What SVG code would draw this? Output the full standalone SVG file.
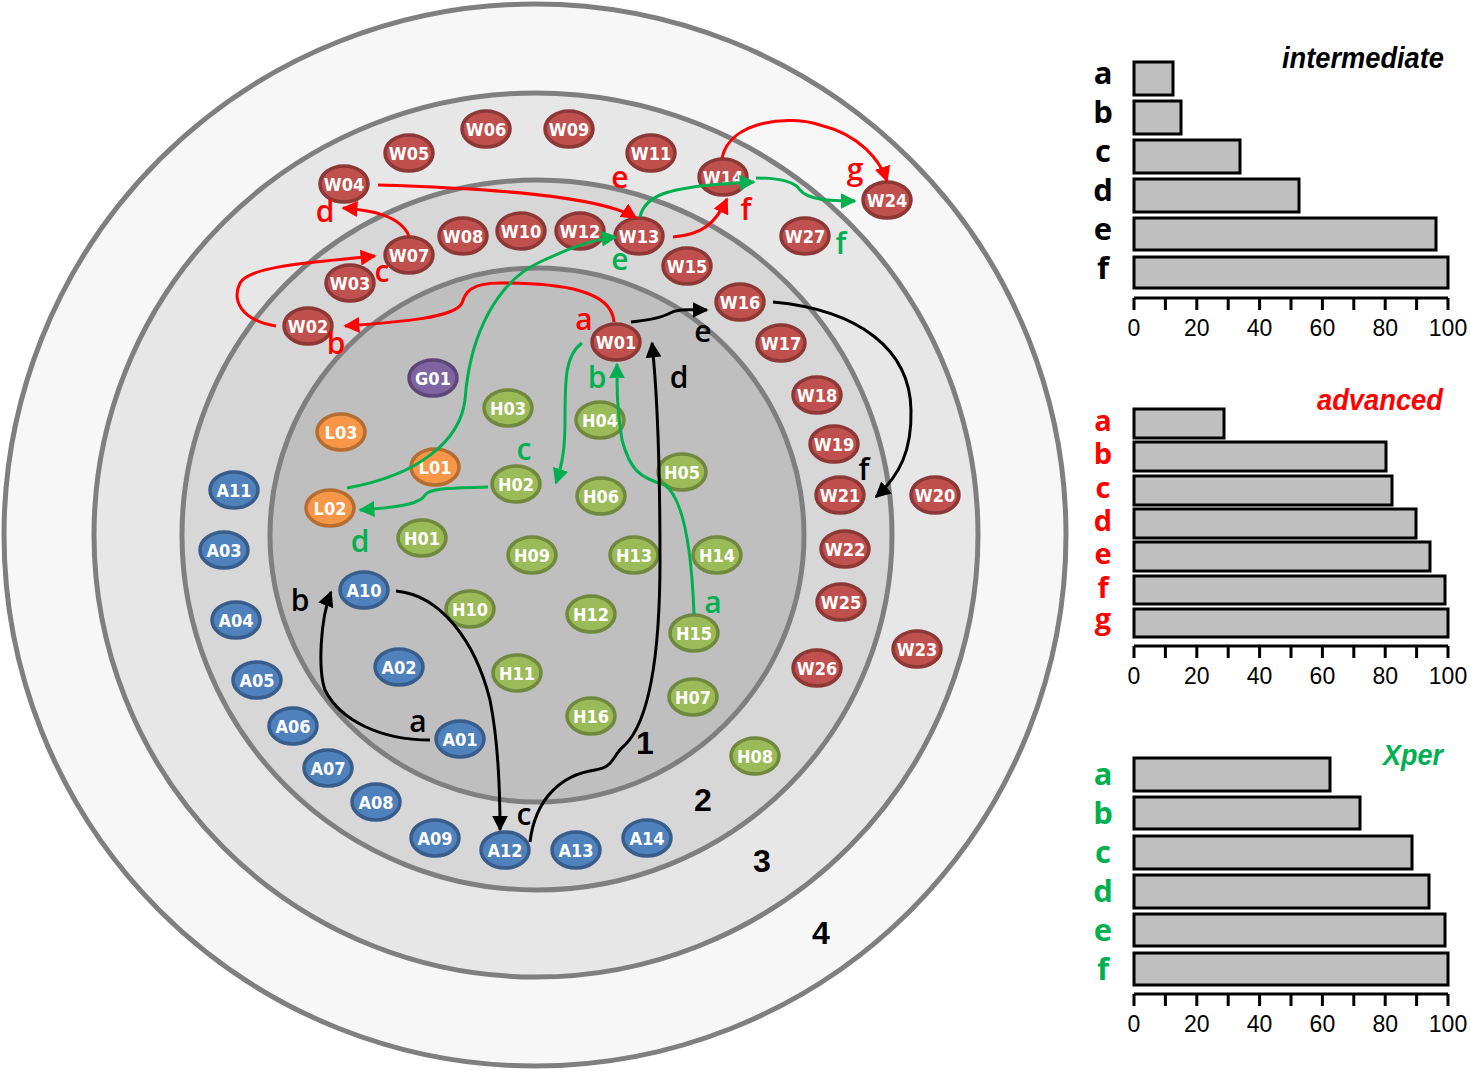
<svg xmlns="http://www.w3.org/2000/svg" width="1470" height="1071" viewBox="0 0 1470 1071">
<defs>
<style>
.ring{stroke:#7f7f7f;stroke-width:5}
.n ellipse{stroke-width:3.5}
.n text{font-family:'DejaVu Sans Condensed','DejaVu Sans',sans-serif;font-stretch:condensed;font-weight:bold;font-size:18px;fill:#fff;text-anchor:middle;dominant-baseline:central}
.W ellipse{fill:#c0504d;stroke:#8c3836}
.A ellipse{fill:#4f81bd;stroke:#385d8a}
.H ellipse{fill:#9bbb59;stroke:#71893f}
.L ellipse{fill:#f79646;stroke:#b66d31}
.G ellipse{fill:#8064a2;stroke:#5c4776}
.e{fill:none;stroke-width:3}
.er{stroke:#ff0000}
.eg{stroke:#00b050}
.ek{stroke:#000}
.lab{font-family:'Open Sans','Liberation Sans',sans-serif;font-weight:600;font-size:30px;text-anchor:middle}
.rn{font-family:'Liberation Sans',sans-serif;font-weight:bold;font-size:32px;text-anchor:middle}
.bar{fill:#bfbfbf;stroke:#000;stroke-width:3}
.ax{stroke:#000;stroke-width:3;fill:none}
.tk{font-family:'Liberation Sans',sans-serif;font-size:23px;text-anchor:middle}
.cl{font-family:'Open Sans','Liberation Sans',sans-serif;font-weight:bold;font-size:31px;text-anchor:middle}
.cs{font-size:29px}
.tt{font-family:'Liberation Sans',sans-serif;font-weight:bold;font-style:italic;font-size:30px}
</style>
<marker id="mr" viewBox="0 0 10 10" refX="9" refY="5" markerWidth="16" markerHeight="16" markerUnits="userSpaceOnUse" orient="auto"><path d="M0,0L10,5L0,10z" fill="#ff0000"/></marker>
<marker id="mg" viewBox="0 0 10 10" refX="9" refY="5" markerWidth="16" markerHeight="16" markerUnits="userSpaceOnUse" orient="auto"><path d="M0,0L10,5L0,10z" fill="#00b050"/></marker>
<marker id="mk" viewBox="0 0 10 10" refX="9" refY="5" markerWidth="16" markerHeight="16" markerUnits="userSpaceOnUse" orient="auto"><path d="M0,0L10,5L0,10z" fill="#000"/></marker>
</defs>
<rect width="1470" height="1071" fill="#fff"/>
<g id="rings">
<circle class="ring" cx="535" cy="535" r="531" fill="#f7f7f7"/>
<circle class="ring" cx="536" cy="535" r="442" fill="#e7e7e7"/>
<circle class="ring" cx="537" cy="535" r="355" fill="#d7d7d7"/>
<circle class="ring" cx="537" cy="535" r="267" fill="#bfbfbf"/>
<text class="rn" x="645" y="754">1</text>
<text class="rn" x="703" y="811">2</text>
<text class="rn" x="762" y="872">3</text>
<text class="rn" x="821" y="944">4</text>
</g>
<g id="nodes">
<g id="W01" class="n W"><ellipse cx="616" cy="342" rx="24" ry="18"/><text x="616" y="342">W01</text></g>
<g id="W02" class="n W"><ellipse cx="308" cy="326" rx="24" ry="18"/><text x="308" y="326">W02</text></g>
<g id="W03" class="n W"><ellipse cx="350" cy="283" rx="24" ry="18"/><text x="350" y="283">W03</text></g>
<g id="W04" class="n W"><ellipse cx="344" cy="184" rx="24" ry="18"/><text x="344" y="184">W04</text></g>
<g id="W05" class="n W"><ellipse cx="409" cy="153" rx="24" ry="18"/><text x="409" y="153">W05</text></g>
<g id="W06" class="n W"><ellipse cx="486" cy="129" rx="24" ry="18"/><text x="486" y="129">W06</text></g>
<g id="W07" class="n W"><ellipse cx="409" cy="255" rx="24" ry="18"/><text x="409" y="255">W07</text></g>
<g id="W08" class="n W"><ellipse cx="463" cy="236" rx="24" ry="18"/><text x="463" y="236">W08</text></g>
<g id="W09" class="n W"><ellipse cx="569" cy="129" rx="24" ry="18"/><text x="569" y="129">W09</text></g>
<g id="W10" class="n W"><ellipse cx="521" cy="231" rx="24" ry="18"/><text x="521" y="231">W10</text></g>
<g id="W11" class="n W"><ellipse cx="651" cy="153" rx="24" ry="18"/><text x="651" y="153">W11</text></g>
<g id="W12" class="n W"><ellipse cx="580" cy="231" rx="24" ry="18"/><text x="580" y="231">W12</text></g>
<g id="W13" class="n W"><ellipse cx="639" cy="236" rx="24" ry="18"/><text x="639" y="236">W13</text></g>
<g id="W14" class="n W"><ellipse cx="723" cy="177" rx="24" ry="18"/><text x="723" y="177">W14</text></g>
<g id="W15" class="n W"><ellipse cx="687" cy="266" rx="24" ry="18"/><text x="687" y="266">W15</text></g>
<g id="W16" class="n W"><ellipse cx="740" cy="302" rx="24" ry="18"/><text x="740" y="302">W16</text></g>
<g id="W17" class="n W"><ellipse cx="781" cy="343" rx="24" ry="18"/><text x="781" y="343">W17</text></g>
<g id="W18" class="n W"><ellipse cx="817" cy="395" rx="24" ry="18"/><text x="817" y="395">W18</text></g>
<g id="W19" class="n W"><ellipse cx="834" cy="444" rx="24" ry="18"/><text x="834" y="444">W19</text></g>
<g id="W20" class="n W"><ellipse cx="935" cy="495" rx="24" ry="18"/><text x="935" y="495">W20</text></g>
<g id="W21" class="n W"><ellipse cx="840" cy="495" rx="24" ry="18"/><text x="840" y="495">W21</text></g>
<g id="W22" class="n W"><ellipse cx="845" cy="549" rx="24" ry="18"/><text x="845" y="549">W22</text></g>
<g id="W23" class="n W"><ellipse cx="917" cy="649" rx="24" ry="18"/><text x="917" y="649">W23</text></g>
<g id="W24" class="n W"><ellipse cx="887" cy="200" rx="24" ry="18"/><text x="887" y="200">W24</text></g>
<g id="W25" class="n W"><ellipse cx="841" cy="602" rx="24" ry="18"/><text x="841" y="602">W25</text></g>
<g id="W26" class="n W"><ellipse cx="817" cy="668" rx="24" ry="18"/><text x="817" y="668">W26</text></g>
<g id="W27" class="n W"><ellipse cx="805" cy="236" rx="24" ry="18"/><text x="805" y="236">W27</text></g>
<g id="G01" class="n G"><ellipse cx="433" cy="378" rx="24" ry="18"/><text x="433" y="378">G01</text></g>
<g id="L01" class="n L"><ellipse cx="435" cy="467" rx="24" ry="18"/><text x="435" y="467">L01</text></g>
<g id="L02" class="n L"><ellipse cx="330" cy="508" rx="24" ry="18"/><text x="330" y="508">L02</text></g>
<g id="L03" class="n L"><ellipse cx="341" cy="432" rx="24" ry="18"/><text x="341" y="432">L03</text></g>
<g id="H01" class="n H"><ellipse cx="422" cy="538" rx="24" ry="18"/><text x="422" y="538">H01</text></g>
<g id="H02" class="n H"><ellipse cx="516" cy="484" rx="24" ry="18"/><text x="516" y="484">H02</text></g>
<g id="H03" class="n H"><ellipse cx="508" cy="408" rx="24" ry="18"/><text x="508" y="408">H03</text></g>
<g id="H04" class="n H"><ellipse cx="600" cy="420" rx="24" ry="18"/><text x="600" y="420">H04</text></g>
<g id="H05" class="n H"><ellipse cx="682" cy="472" rx="24" ry="18"/><text x="682" y="472">H05</text></g>
<g id="H06" class="n H"><ellipse cx="601" cy="496" rx="24" ry="18"/><text x="601" y="496">H06</text></g>
<g id="H07" class="n H"><ellipse cx="693" cy="697" rx="24" ry="18"/><text x="693" y="697">H07</text></g>
<g id="H08" class="n H"><ellipse cx="755" cy="756" rx="24" ry="18"/><text x="755" y="756">H08</text></g>
<g id="H09" class="n H"><ellipse cx="532" cy="555" rx="24" ry="18"/><text x="532" y="555">H09</text></g>
<g id="H10" class="n H"><ellipse cx="470" cy="609" rx="24" ry="18"/><text x="470" y="609">H10</text></g>
<g id="H11" class="n H"><ellipse cx="517" cy="673" rx="24" ry="18"/><text x="517" y="673">H11</text></g>
<g id="H12" class="n H"><ellipse cx="591" cy="614" rx="24" ry="18"/><text x="591" y="614">H12</text></g>
<g id="H13" class="n H"><ellipse cx="634" cy="555" rx="24" ry="18"/><text x="634" y="555">H13</text></g>
<g id="H14" class="n H"><ellipse cx="717" cy="555" rx="24" ry="18"/><text x="717" y="555">H14</text></g>
<g id="H15" class="n H"><ellipse cx="694" cy="633" rx="24" ry="18"/><text x="694" y="633">H15</text></g>
<g id="H16" class="n H"><ellipse cx="591" cy="716" rx="24" ry="18"/><text x="591" y="716">H16</text></g>
<g id="A01" class="n A"><ellipse cx="460" cy="739" rx="24" ry="18"/><text x="460" y="739">A01</text></g>
<g id="A02" class="n A"><ellipse cx="399" cy="667" rx="24" ry="18"/><text x="399" y="667">A02</text></g>
<g id="A03" class="n A"><ellipse cx="224" cy="550" rx="24" ry="18"/><text x="224" y="550">A03</text></g>
<g id="A04" class="n A"><ellipse cx="236" cy="620" rx="24" ry="18"/><text x="236" y="620">A04</text></g>
<g id="A05" class="n A"><ellipse cx="257" cy="680" rx="24" ry="18"/><text x="257" y="680">A05</text></g>
<g id="A06" class="n A"><ellipse cx="293" cy="726" rx="24" ry="18"/><text x="293" y="726">A06</text></g>
<g id="A07" class="n A"><ellipse cx="328" cy="768" rx="24" ry="18"/><text x="328" y="768">A07</text></g>
<g id="A08" class="n A"><ellipse cx="376" cy="802" rx="24" ry="18"/><text x="376" y="802">A08</text></g>
<g id="A09" class="n A"><ellipse cx="435" cy="838" rx="24" ry="18"/><text x="435" y="838">A09</text></g>
<g id="A10" class="n A"><ellipse cx="364" cy="590" rx="24" ry="18"/><text x="364" y="590">A10</text></g>
<g id="A11" class="n A"><ellipse cx="234" cy="490" rx="24" ry="18"/><text x="234" y="490">A11</text></g>
<g id="A12" class="n A"><ellipse cx="505" cy="850" rx="24" ry="18"/><text x="505" y="850">A12</text></g>
<g id="A13" class="n A"><ellipse cx="576" cy="850" rx="24" ry="18"/><text x="576" y="850">A13</text></g>
<g id="A14" class="n A"><ellipse cx="647" cy="838" rx="24" ry="18"/><text x="647" y="838">A14</text></g>
</g>
<g id="connectors">
<path class="e er" marker-end="url(#mr)" d="M614,322 C612,290 560,283 500,283 C470,283 465,293 462,303 C455,318 400,322 345,326"/>
<path class="e er" marker-end="url(#mr)" d="M276,326 C240,320 232,300 240,283 C250,265 320,262 375,256"/>
<path class="e er" marker-end="url(#mr)" d="M409,236 C400,215 370,210 343,208"/>
<path class="e er" marker-end="url(#mr)" d="M378,185 C480,188 600,195 636,218"/>
<path class="e er" marker-end="url(#mr)" d="M673,237 C700,235 715,225 727,199"/>
<path class="e er" marker-end="url(#mr)" d="M722,158 C730,120 790,115 820,125 C860,135 880,160 887,181"/>
<path class="e eg" marker-end="url(#mg)" d="M694,614 C692,560 685,500 665,485 C640,478 630,470 622,440 C617,410 617,390 617,364"/>
<path class="e eg" marker-end="url(#mg)" d="M582,343 C565,355 565,380 565,420 C565,450 562,465 556,483"/>
<path class="e eg" marker-end="url(#mg)" d="M488,487 C460,488 430,487 425,495 C420,505 390,508 360,510"/>
<path class="e eg" marker-end="url(#mg)" d="M347,488 C420,475 460,440 465,400 C470,330 500,280 540,262 C570,248 590,240 616,237"/>
<path class="e eg" marker-end="url(#mg)" d="M640,217 C645,195 670,190 700,186 C720,184 735,183 754,182"/>
<path class="e eg" marker-end="url(#mg)" d="M756,178 C780,178 795,182 800,190 C808,200 830,201 855,201"/>
<path class="e ek" marker-end="url(#mk)" d="M430,740 C380,740 340,720 325,690 C318,670 320,620 331,592"/>
<path class="e ek" marker-end="url(#mk)" d="M396,591 C440,595 475,640 490,700 C498,740 500,790 500,830"/>
<path class="e ek" marker-end="url(#mk)" d="M530,842 C535,800 560,775 595,770 C615,767 612,755 625,745 C650,720 660,650 660,560 C660,470 658,400 652,343"/>
<path class="e ek" marker-end="url(#mk)" d="M631,322 C650,320 660,318 668,314 C678,308 690,310 707,310"/>
<path class="e ek" marker-end="url(#mk)" d="M773,302 C860,310 910,350 911,410 C912,450 900,475 876,497"/>
<g fill="#ff0000">
<text class="lab" x="584" y="330">a</text>
<text class="lab" x="336" y="354">b</text>
<text class="lab" x="382" y="282">c</text>
<text class="lab" x="325" y="222">d</text>
<text class="lab" x="620" y="188">e</text>
<text class="lab" x="746" y="220">f</text>
<text class="lab" x="855" y="180">g</text>
</g>
<g fill="#00b050">
<text class="lab" x="713" y="613">a</text>
<text class="lab" x="597" y="388">b</text>
<text class="lab" x="524" y="460">c</text>
<text class="lab" x="360" y="552">d</text>
<text class="lab" x="620" y="270">e</text>
<text class="lab" x="841" y="254">f</text>
</g>
<g fill="#000">
<text class="lab" x="418" y="732">a</text>
<text class="lab" x="300" y="611">b</text>
<text class="lab" x="524" y="825">c</text>
<text class="lab" x="679" y="388">d</text>
<text class="lab" x="703" y="342">e</text>
<text class="lab" x="864" y="480">f</text>
</g>
</g>
<g id="chart-intermediate">
<text class="tt" x="1282" y="68" textLength="162" lengthAdjust="spacingAndGlyphs" fill="#000">intermediate</text>
<rect class="bar" x="1134" y="62" width="39" height="33"/>
<rect class="bar" x="1134" y="101" width="47" height="33"/>
<rect class="bar" x="1134" y="140" width="106" height="33"/>
<rect class="bar" x="1134" y="179" width="165" height="33"/>
<rect class="bar" x="1134" y="218" width="302" height="32"/>
<rect class="bar" x="1134" y="257" width="314" height="31"/>
<g fill="#000">
<text class="cl" x="1103" y="84">a</text>
<text class="cl" x="1103" y="123">b</text>
<text class="cl" x="1103" y="162">c</text>
<text class="cl" x="1103" y="201">d</text>
<text class="cl" x="1103" y="240">e</text>
<text class="cl" x="1103" y="279">f</text>
</g>
<path class="ax" d="M1134,298H1448M1134,298v12M1165.4,298v12M1196.8,298v12M1228.2,298v12M1259.6,298v12M1291,298v12M1322.4,298v12M1353.8,298v12M1385.2,298v12M1416.6,298v12M1448,298v12"/>
<g>
<text class="tk" x="1134" y="336">0</text><text class="tk" x="1196.8" y="336">20</text><text class="tk" x="1259.6" y="336">40</text><text class="tk" x="1322.4" y="336">60</text><text class="tk" x="1385.2" y="336">80</text><text class="tk" x="1448" y="336">100</text>
</g>
</g>
<g id="chart-advanced">
<text class="tt" x="1317" y="410" textLength="126" lengthAdjust="spacingAndGlyphs" fill="#ff0000">advanced</text>
<rect class="bar" x="1134" y="409" width="90" height="29"/>
<rect class="bar" x="1134" y="442" width="252" height="29"/>
<rect class="bar" x="1134" y="476" width="258" height="29"/>
<rect class="bar" x="1134" y="509" width="282" height="29"/>
<rect class="bar" x="1134" y="542" width="296" height="29"/>
<rect class="bar" x="1134" y="576" width="311" height="28"/>
<rect class="bar" x="1134" y="609" width="314" height="28"/>
<g fill="#ff0000">
<text class="cl cs" x="1103" y="431">a</text>
<text class="cl cs" x="1103" y="464">b</text>
<text class="cl cs" x="1103" y="498">c</text>
<text class="cl cs" x="1103" y="531">d</text>
<text class="cl cs" x="1103" y="564">e</text>
<text class="cl cs" x="1103" y="598">f</text>
<text class="cl cs" x="1103" y="629">g</text>
</g>
<path class="ax" d="M1134,646H1448M1134,646v12M1165.4,646v12M1196.8,646v12M1228.2,646v12M1259.6,646v12M1291,646v12M1322.4,646v12M1353.8,646v12M1385.2,646v12M1416.6,646v12M1448,646v12"/>
<g>
<text class="tk" x="1134" y="684">0</text><text class="tk" x="1196.8" y="684">20</text><text class="tk" x="1259.6" y="684">40</text><text class="tk" x="1322.4" y="684">60</text><text class="tk" x="1385.2" y="684">80</text><text class="tk" x="1448" y="684">100</text>
</g>
</g>
<g id="chart-xper">
<text class="tt" x="1383" y="765" textLength="60" lengthAdjust="spacingAndGlyphs" fill="#00b050">Xper</text>
<rect class="bar" x="1134" y="758" width="196" height="33"/>
<rect class="bar" x="1134" y="797" width="226" height="32"/>
<rect class="bar" x="1134" y="836" width="278" height="33"/>
<rect class="bar" x="1134" y="875" width="295" height="33"/>
<rect class="bar" x="1134" y="914" width="311" height="32"/>
<rect class="bar" x="1134" y="953" width="314" height="32"/>
<g fill="#00b050">
<text class="cl" x="1103" y="785">a</text>
<text class="cl" x="1103" y="824">b</text>
<text class="cl" x="1103" y="863">c</text>
<text class="cl" x="1103" y="902">d</text>
<text class="cl" x="1103" y="941">e</text>
<text class="cl" x="1103" y="980">f</text>
</g>
<path class="ax" d="M1134,994H1448M1134,994v12M1165.4,994v12M1196.8,994v12M1228.2,994v12M1259.6,994v12M1291,994v12M1322.4,994v12M1353.8,994v12M1385.2,994v12M1416.6,994v12M1448,994v12"/>
<g>
<text class="tk" x="1134" y="1032">0</text><text class="tk" x="1196.8" y="1032">20</text><text class="tk" x="1259.6" y="1032">40</text><text class="tk" x="1322.4" y="1032">60</text><text class="tk" x="1385.2" y="1032">80</text><text class="tk" x="1448" y="1032">100</text>
</g>
</g>
</svg>
